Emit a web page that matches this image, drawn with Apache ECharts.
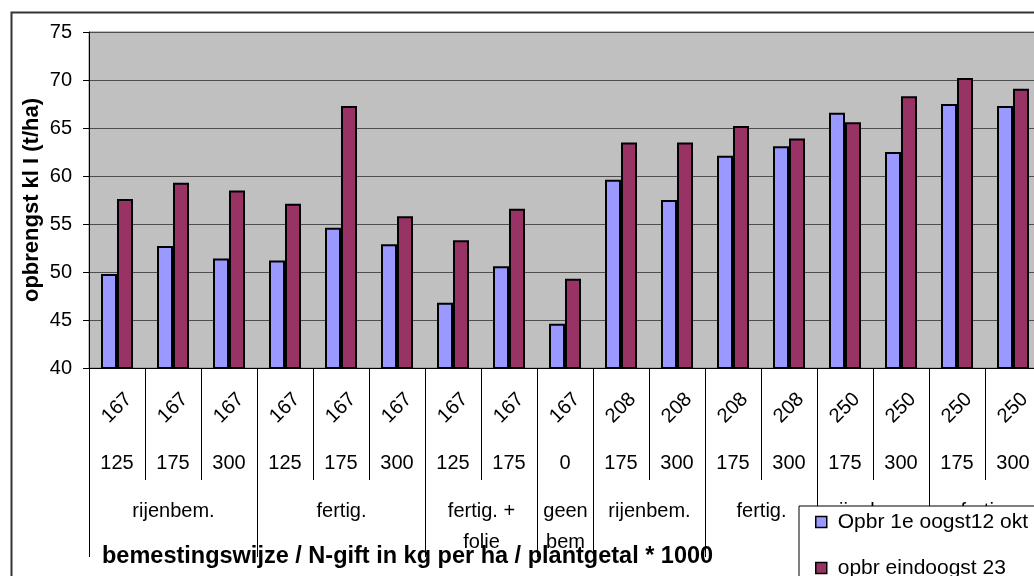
<!DOCTYPE html>
<html>
<head>
<meta charset="utf-8">
<script src="https://cdn.jsdelivr.net/npm/echarts@6/dist/echarts.min.js"></script>
<style>
  html, body { margin: 0; padding: 0; background: #ffffff; }
  #chart { width: 1034px; height: 576px; }
</style>
</head>
<body>
<div id="chart"></div>
<script>
// Plant density (x 1000 per ha), one per bar group
const plantgetal = ['167', '167', '167', '167', '167', '167', '167', '167', '167',
                    '208', '208', '208', '208', '250', '250', '250', '250'];
// N dose in kg per ha
const nGift = ['125', '175', '300', '125', '175', '300', '125', '175', '0',
               '175', '300', '175', '300', '175', '300', '175', '300'];
// Fertilisation method and how many categories each one spans
const methodNames = ['rijenbem.', 'fertig.', 'fertig. +\nfolie', 'geen\nbem',
                     'rijenbem.', 'fertig.', 'rijenbem.', 'fertig.'];
const methodSpans = [3, 3, 2, 1, 2, 2, 2, 2];

// Yield (t/ha)
const seriesNames = ['Opbr 1e oogst12 okt', 'opbr eindoogst 23'];
const oogst1 = [49.8, 52.7, 51.4, 51.2, 54.6, 52.9, 46.8, 50.6, 44.6,
                59.6, 57.5, 62.1, 63.1, 66.6, 62.5, 67.5, 67.3];
const eindoogst = [57.6, 59.3, 58.5, 57.1, 67.3, 55.8, 53.3, 56.6, 49.3,
                   63.5, 63.5, 65.2, 63.9, 65.6, 68.3, 70.2, 69.1];

const yMin = 40, yMax = 75, yStep = 5;

// start/end category index for each method group
const methodRanges = [];
let pos = 0;
methodSpans.forEach(function (n) { methodRanges.push([pos, pos + n - 1]); pos += n; });

const FONT = '"Liberation Sans", Arial, sans-serif';
const chart = echarts.init(document.getElementById('chart'), null, { renderer: 'canvas' });

chart.setOption({
  animation: false,
  backgroundColor: '#ffffff',
  textStyle: { fontFamily: FONT, color: '#000' },
  grid: {
    left: 89, top: 32, width: 952, height: 336,
    outerBoundsMode: 'none',
    containLabel: false,
    show: true, backgroundColor: '#c0c0c0', borderColor: '#808080', borderWidth: 1
  },
  legend: {
    orient: 'vertical',
    left: 799, top: 506, width: 260, height: 120,
    backgroundColor: '#ffffff',
    borderColor: '#000000', borderWidth: 1,
    padding: [4, 30, 20, 16],
    itemWidth: 11, itemHeight: 11, itemGap: 22,
    icon: 'rect',
    itemStyle: { borderColor: '#000', borderWidth: 1.5 },
    textStyle: { fontFamily: FONT, fontSize: 21, color: '#000', lineHeight: 24, padding: [0, 0, 0, 6] },
    data: seriesNames
  },
  xAxis: [{
    type: 'category',
    data: nGift,
    position: 'bottom',
    boundaryGap: true,
    axisLine: { show: true, lineStyle: { color: '#000', width: 1 } },
    axisTick: { show: true, interval: 0, length: 112, lineStyle: { color: '#000', width: 1 } },
    axisLabel: { interval: 0, margin: 95, verticalAlign: 'middle', fontSize: 20, fontFamily: FONT, color: '#000' },
    splitLine: { show: false }
  }, {
    type: 'category',
    data: plantgetal,
    position: 'bottom',
    offset: 0,
    axisLine: { show: false },
    axisTick: { show: false },
    axisLabel: { interval: 0, rotate: 45, margin: 40, align: 'center', verticalAlign: 'middle',
                 fontSize: 20, fontFamily: FONT, color: '#000' },
    splitLine: { show: false }
  }],
  yAxis: {
    type: 'value',
    min: yMin, max: yMax, interval: yStep,
    name: 'opbrengst kl I (t/ha)',
    nameLocation: 'middle',
    nameGap: 46,
    nameMoveOverlap: false,
    nameRotate: 90,
    nameTextStyle: { fontFamily: FONT, fontSize: 22, fontWeight: 'bold', color: '#000' },
    axisLine: { show: true, lineStyle: { color: '#000', width: 1 } },
    axisTick: { show: true, inside: false, length: 6, lineStyle: { color: '#000', width: 1 } },
    axisLabel: { margin: 17, fontSize: 20, fontFamily: FONT, color: '#000' },
    splitLine: { show: true, lineStyle: { color: '#4d4d4d', width: 1 } }
  },
  graphic: [{
    type: 'rect',
    shape: { x: 11.5, y: 12.5, width: 1100, height: 700 },
    style: { fill: 'none', stroke: '#333333', lineWidth: 2 },
    silent: true, z: 10
  }, {
    type: 'text',
    left: 102, top: 545,
    style: {
      text: 'bemestingswijze / N-gift in kg per ha / plantgetal * 1000',
      font: 'bold 23.5px ' + FONT, fill: '#000'
    },
    z: 3
  }],
  series: [{
    name: seriesNames[0],
    type: 'bar',
    xAxisIndex: 0,
    data: oogst1,
    barWidth: 16,
    barGap: '0%',
    itemStyle: { color: '#9999ff', borderColor: '#000', borderWidth: 2 }
  }, {
    name: seriesNames[1],
    type: 'bar',
    xAxisIndex: 0,
    data: eindoogst,
    barWidth: 16,
    barGap: '0%',
    itemStyle: { color: '#993366', borderColor: '#000', borderWidth: 2 }
  }, {
    // third label row: fertilisation method groups with their long dividers
    type: 'custom',
    xAxisIndex: 0,
    clip: false,
    silent: true,
    data: methodRanges,
    encode: { x: [0, 1] },
    renderItem: function (params, api) {
      const i = params.dataIndex;
      const bw = api.size([1, 0])[0];
      const a = api.coord([api.value(0), yMin]);
      const b = api.coord([api.value(1), yMin]);
      const x0 = Math.round(a[0] - bw / 2) + 0.5;
      const x1 = Math.round(b[0] + bw / 2) + 0.5;
      const y0 = a[1];
      const children = [{
        type: 'line',
        shape: { x1: x0, y1: y0, x2: x0, y2: y0 + 189 },
        style: { stroke: '#000', lineWidth: 1 }
      }, {
        type: 'text',
        x: (x0 + x1) / 2, y: y0 + 128,
        style: {
          text: methodNames[i],
          font: '20px ' + FONT, fill: '#000',
          align: 'center', verticalAlign: 'top', lineHeight: 31
        }
      }];
      if (i === methodRanges.length - 1) {
        children.push({
          type: 'line',
          shape: { x1: x1, y1: y0, x2: x1, y2: y0 + 189 },
          style: { stroke: '#000', lineWidth: 1 }
        });
      }
      return { type: 'group', children: children };
    }
  }]
});
</script>
</body>
</html>
